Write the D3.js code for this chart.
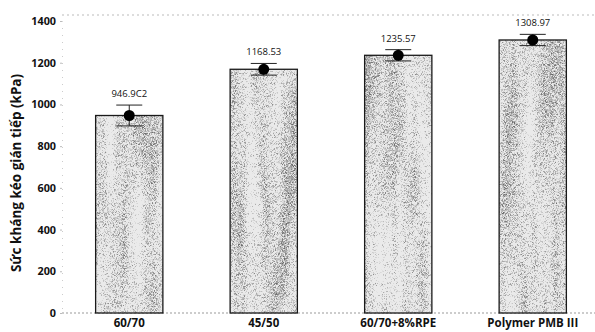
<!DOCTYPE html>
<html><head><meta charset="utf-8">
<script src="https://cdn.jsdelivr.net/npm/d3@7"></script>
<style>body{margin:0;background:#fff}svg{display:block}</style>
</head><body>
<svg id="c" width="595" height="332"></svg>
<script>
const categories = ["60/70", "45/50", "60/70+8%RPE", "Polymer PMB III"];
const values = [946.902, 1168.53, 1235.57, 1308.97];
const errors = [50, 28, 27, 27];
const valueLabels = ["946.9C2", "1168.53", "1235.57", "1308.97"];
const yTicks = [0, 200, 400, 600, 800, 1000, 1200, 1400];
const yTitle = "Sức kháng kéo gián tiếp (kPa)";

const svg = d3.select("#c");
const font = "'Open Sans', 'Noto Sans', sans-serif";
const defs = svg.append("defs");
const f = defs.append("filter").attr("id","stip").attr("x",0).attr("y",0).attr("width",1).attr("height",1)
  .attr("color-interpolation-filters","sRGB");
f.append("feTurbulence").attr("type","fractalNoise").attr("baseFrequency","1.9").attr("numOctaves",1).attr("seed",2).attr("result","n1");
f.append("feColorMatrix").attr("in","n1").attr("type","matrix").attr("values","1 0 0 0 0 1 0 0 0 0 1 0 0 0 0 0 0 0 0 1").attr("result","g1");
f.append("feTurbulence").attr("type","fractalNoise").attr("baseFrequency","0.05 0.006").attr("numOctaves",2).attr("seed",7).attr("result","n2");
f.append("feColorMatrix").attr("in","n2").attr("type","matrix").attr("values","1 0 0 0 0 1 0 0 0 0 1 0 0 0 0 0 0 0 0 1").attr("result","g2");
f.append("feComposite").attr("in","g1").attr("in2","g2").attr("operator","arithmetic").attr("k2",1).attr("k3",0.5).attr("k4",-0.25).attr("result","s");
f.append("feColorMatrix").attr("in","s").attr("type","matrix").attr("values","0 0 0 0 0.42 0 0 0 0 0.42 0 0 0 0 0.42 2.8 0 0 0 -1.32").attr("result","dots");
f.append("feComposite").attr("in","dots").attr("in2","SourceGraphic").attr("operator","in");

const x = d3.scaleBand().domain(categories).range([62, 600]).paddingInner(0.5).paddingOuter(0.25);
const y = d3.scaleLinear().domain([0, 1400]).range([313, 21]);

// frame lines
svg.append("line").attr("x1",62).attr("x2",595).attr("y1",15).attr("y2",15)
  .attr("stroke","#bbb").attr("stroke-width",1).attr("stroke-dasharray","2,3");
svg.append("line").attr("x1",62).attr("x2",595).attr("y1",y(0)).attr("y2",y(0))
  .attr("stroke","#999").attr("stroke-width",1).attr("stroke-dasharray","2,2");

// y axis
const yAxis = d3.axisLeft(y).tickValues(yTicks).tickSize(2).tickPadding(4).tickFormat(d3.format("d"));
const ga = svg.append("g").attr("transform","translate(62,0)").call(yAxis);
ga.select(".domain").attr("stroke","#ccc").attr("stroke-dasharray","1,6");
ga.selectAll(".tick line").attr("stroke","#bbb");
ga.selectAll(".tick text").attr("font-family",font).attr("font-weight","bold").attr("font-size","10.8px").attr("fill","#111");

// x axis
const xAxis = d3.axisBottom(x).tickSize(0).tickPadding(6);
const gx = svg.append("g").attr("transform",`translate(0,${y(0)})`).call(xAxis);
gx.select(".domain").remove();
gx.selectAll(".tick text").attr("font-family",font).attr("font-weight","bold").attr("font-size","11.5px").attr("fill","#111");

// bars
const bars = svg.append("g");
bars.selectAll("rect.bg").data(values).join("rect").attr("class","bg")
  .attr("x",(d,i)=>x(categories[i])).attr("width",x.bandwidth())
  .attr("y",d=>y(d)).attr("height",d=>y(0)-y(d)).attr("fill","#eaeaea");
bars.selectAll("rect.tex").data(values).join("rect").attr("class","tex")
  .attr("x",(d,i)=>x(categories[i])).attr("width",x.bandwidth())
  .attr("y",d=>y(d)).attr("height",d=>y(0)-y(d)).attr("fill","#888").attr("filter","url(#stip)");
bars.selectAll("rect.ol").data(values).join("rect").attr("class","ol")
  .attr("x",(d,i)=>x(categories[i])).attr("width",x.bandwidth())
  .attr("y",d=>y(d)).attr("height",d=>y(0)-y(d)).attr("fill","none").attr("stroke","#1a1a1a").attr("stroke-width",1.3);

// error bars
const cx = i => x(categories[i]) + x.bandwidth()/2;
const eg = svg.append("g").attr("stroke","#222").attr("stroke-width",1);
values.forEach((v,i)=>{
  const c = cx(i), hi = y(v+errors[i]), lo = y(v-errors[i]);
  eg.append("line").attr("x1",c).attr("x2",c).attr("y1",hi).attr("y2",lo);
  eg.append("line").attr("x1",c-13).attr("x2",c+13).attr("y1",hi).attr("y2",hi);
  eg.append("line").attr("x1",c-13).attr("x2",c+13).attr("y1",lo).attr("y2",lo);
});
svg.append("g").selectAll("circle").data(values).join("circle")
  .attr("cx",(d,i)=>cx(i)).attr("cy",d=>y(d)).attr("r",5.5).attr("fill","#000");

// value labels
svg.append("g").selectAll("text").data(values).join("text")
  .attr("x",(d,i)=>cx(i)).attr("y",(d,i)=>y(d+errors[i])-8)
  .attr("text-anchor","middle").attr("font-family",font).attr("font-size","9.5px").attr("fill","#111")
  .text((d,i)=>valueLabels[i]);

// y title
svg.append("text").attr("transform","translate(21,173) rotate(-90)")
  .attr("text-anchor","middle").attr("font-family",font).attr("font-weight","bold").attr("font-size","13.5px").attr("fill","#111")
  .text(yTitle);
</script>
</body></html>
